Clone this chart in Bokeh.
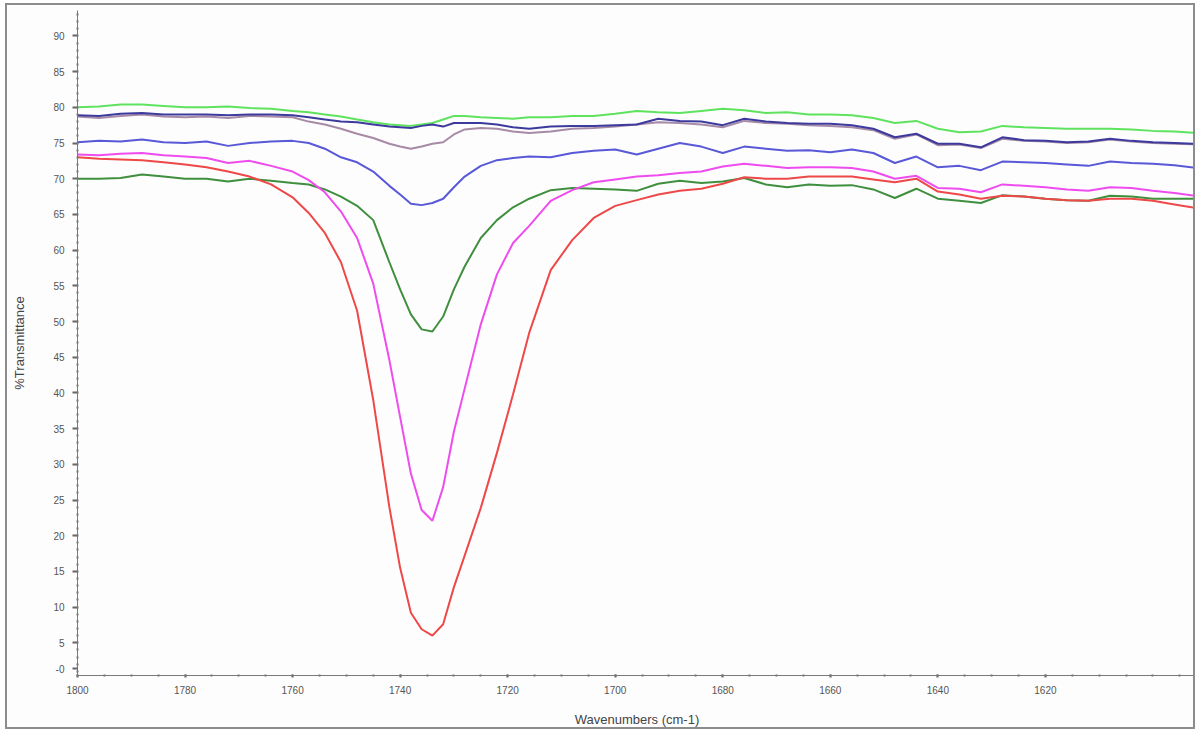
from bokeh.plotting import figure
from bokeh.models import Range1d, FixedTicker
from bokeh.embed import file_html
from bokeh.resources import INLINE

wavenumber = [1800, 1796, 1792, 1788, 1784, 1780, 1776, 1772, 1768, 1764, 1760, 1757, 1754, 1751,
              1748, 1745, 1742, 1740, 1738, 1736, 1734, 1732, 1730, 1728, 1725, 1722, 1719, 1716,
              1712, 1708, 1704, 1700, 1696, 1692, 1688, 1684, 1680, 1676, 1672, 1668, 1664, 1660,
              1656, 1652, 1648, 1644, 1640, 1636, 1632, 1628, 1624, 1620, 1616, 1612, 1608, 1604,
              1600, 1596, 1592]

light_green = [80.0, 80.1, 80.4, 80.4, 80.2, 80.0, 80.0, 80.1, 79.9, 79.8, 79.5, 79.3, 79.0, 78.7,
               78.3, 77.9, 77.6, 77.5, 77.4, 77.6, 77.8, 78.3, 78.8, 78.8, 78.6, 78.5, 78.4, 78.6,
               78.6, 78.8, 78.8, 79.1, 79.5, 79.3, 79.2, 79.5, 79.8, 79.6, 79.2, 79.3, 79.0, 79.0,
               78.9, 78.5, 77.8, 78.1, 77.0, 76.5, 76.6, 77.4, 77.2, 77.1, 77.0, 77.0, 77.0, 76.9,
               76.7, 76.6, 76.4]

navy = [78.9, 78.8, 79.1, 79.2, 79.0, 79.0, 79.0, 78.9, 79.0, 79.0, 78.9, 78.6, 78.3, 78.0,
        77.9, 77.6, 77.3, 77.2, 77.1, 77.4, 77.6, 77.3, 77.8, 77.8, 77.8, 77.6, 77.2, 77.0,
        77.3, 77.4, 77.4, 77.5, 77.6, 78.4, 78.1, 78.0, 77.5, 78.4, 78.0, 77.8, 77.7, 77.7,
        77.5, 77.0, 75.8, 76.3, 74.9, 74.9, 74.4, 75.8, 75.4, 75.3, 75.1, 75.2, 75.6, 75.3,
        75.1, 75.0, 74.9]

grey_purple = [78.7, 78.5, 78.8, 79.0, 78.7, 78.6, 78.7, 78.5, 78.8, 78.7, 78.6, 78.0, 77.6, 77.0,
               76.3, 75.7, 74.9, 74.5, 74.2, 74.5, 74.9, 75.1, 76.2, 76.9, 77.1, 77.0, 76.6, 76.4,
               76.6, 77.0, 77.1, 77.3, 77.6, 77.9, 77.8, 77.6, 77.2, 78.1, 77.8, 77.7, 77.5, 77.4,
               77.2, 76.8, 75.6, 76.2, 74.7, 74.8, 74.3, 75.6, 75.3, 75.2, 75.0, 75.1, 75.5, 75.2,
               75.0, 74.9, 74.8]

blue = [75.1, 75.3, 75.2, 75.5, 75.1, 75.0, 75.2, 74.6, 75.0, 75.2, 75.3, 75.0, 74.2, 73.0,
        72.3, 71.0, 69.0, 67.8, 66.5, 66.3, 66.6, 67.2, 68.8, 70.3, 71.8, 72.6, 72.9, 73.1,
        73.0, 73.6, 73.9, 74.1, 73.4, 74.2, 75.0, 74.5, 73.6, 74.5, 74.2, 73.9, 74.0, 73.7,
        74.1, 73.6, 72.2, 73.1, 71.6, 71.8, 71.2, 72.4, 72.3, 72.2, 72.0, 71.8, 72.4, 72.2,
        72.1, 71.9, 71.5]

magenta = [73.4, 73.3, 73.5, 73.6, 73.3, 73.1, 72.9, 72.2, 72.5, 71.8, 71.0, 69.8, 68.1, 65.4,
           61.7, 55.3, 44.6, 36.6, 28.7, 23.6, 22.1, 26.8, 34.6, 40.6, 49.6, 56.6, 61.0, 63.4,
           66.9, 68.4, 69.5, 69.9, 70.3, 70.5, 70.8, 71.0, 71.7, 72.1, 71.8, 71.5, 71.6, 71.6,
           71.5, 71.0, 70.0, 70.4, 68.7, 68.6, 68.1, 69.2, 69.0, 68.8, 68.5, 68.3, 68.8, 68.7,
           68.3, 68.0, 67.6]

red = [73.0, 72.8, 72.7, 72.6, 72.3, 72.0, 71.6, 71.0, 70.3, 69.2, 67.4, 65.2, 62.4, 58.3,
       51.5, 39.0, 24.0, 15.5, 9.2, 6.9, 6.0, 7.6, 12.8, 17.2, 23.9, 31.6, 39.8, 48.4,
       57.2, 61.4, 64.5, 66.2, 67.0, 67.8, 68.3, 68.6, 69.3, 70.2, 70.0, 70.0, 70.3, 70.3,
       70.3, 69.9, 69.5, 70.0, 68.2, 67.8, 67.2, 67.6, 67.5, 67.2, 67.0, 66.9, 67.2, 67.2,
       66.9, 66.4, 65.9]

dark_green = [70.0, 70.0, 70.1, 70.6, 70.3, 70.0, 70.0, 69.6, 70.0, 69.7, 69.4, 69.2, 68.5, 67.5,
              66.2, 64.2, 58.3, 54.5, 51.0, 48.9, 48.6, 50.7, 54.5, 57.7, 61.7, 64.2, 66.0, 67.2,
              68.4, 68.7, 68.6, 68.5, 68.3, 69.3, 69.7, 69.4, 69.6, 70.1, 69.2, 68.8, 69.2, 69.0,
              69.1, 68.5, 67.3, 68.6, 67.2, 66.9, 66.6, 67.7, 67.5, 67.2, 67.0, 66.9, 67.6, 67.5,
              67.2, 67.2, 67.2]

series = [
    (light_green, "#5fe35f"),
    (grey_purple, "#a68aa6"),
    (navy, "#3d3a9e"),
    (blue, "#5858d8"),
    (dark_green, "#3f8f3f"),
    (magenta, "#ee4cee"),
    (red, "#ee4848"),
]

x_ticks = [1800, 1780, 1760, 1740, 1720, 1700, 1680, 1660, 1640, 1620]
y_ticks = [1.4, 5, 10, 15, 20, 25, 30, 35, 40, 45, 50, 55, 60, 65, 70, 75, 80, 85, 90]

p = figure(width=1190, height=726, output_backend="svg", toolbar_location=None,
           x_range=Range1d(1800, 1591.9), y_range=Range1d(0.42, 93.56),
           min_border_left=70, min_border_right=1, min_border_top=5, min_border_bottom=56,
           background_fill_color="#fdfdfd", border_fill_color="#fdfdfd")
p.margin = (3, 0, 0, 5)
p.styles = {"border": "2px solid #8c8c8c"}
p.outline_line_color = None
p.grid.visible = False

for vals, col in series:
    p.line(wavenumber, vals, line_color=col, line_width=2)

xa = p.xaxis[0]
xa.ticker = FixedTicker(ticks=x_ticks, minor_ticks=[1800 - 5 * i for i in range(42)])
xa.axis_label = "Wavenumbers (cm-1)"
ya = p.yaxis[0]
ya.ticker = FixedTicker(ticks=y_ticks, minor_ticks=list(range(1, 94)))
ya.major_label_overrides = {1.4: "-0"}
ya.axis_label = "%Transmittance"

for ax in (xa, ya):
    ax.axis_line_color = "#7a7a7a"
    ax.axis_line_width = 1
    ax.major_tick_line_color = "#666666"
    ax.minor_tick_line_color = "#777777"
    ax.major_tick_line_width = 2
    ax.minor_tick_line_width = 2
    ax.major_label_text_font = "Liberation Sans"
    ax.major_label_text_font_size = "10px"
    ax.major_label_text_color = "#555555"
    ax.axis_label_text_font = "Liberation Sans"
    ax.axis_label_text_font_size = "13px"
    ax.axis_label_text_font_style = "normal"
    ax.axis_label_text_color = "#444444"

xa.major_tick_out = 2
xa.major_tick_in = 1
xa.minor_tick_out = 1
xa.minor_tick_in = 1
xa.major_label_standoff = 8
xa.axis_label_standoff = 15

ya.major_tick_out = 5
ya.major_tick_in = 0
ya.minor_tick_out = 1
ya.minor_tick_in = 1
ya.major_label_standoff = 8
ya.axis_label_standoff = 23

open("out.html", "w").write(file_html(p, INLINE))
